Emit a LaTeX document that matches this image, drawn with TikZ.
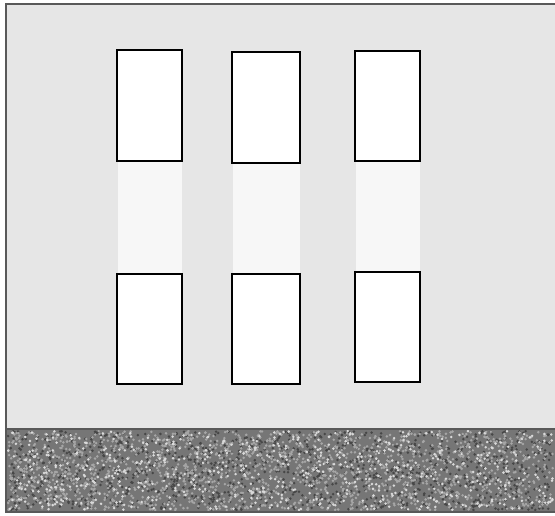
\documentclass[tikz,border=0pt]{standalone}
\usepackage{tikz}
\usetikzlibrary{calc}
\definecolor{wallgray}{HTML}{E6E6E6}
\definecolor{stripgray}{HTML}{F7F7F7}
\definecolor{gravelgray}{HTML}{767676}
\begin{document}
\begin{tikzpicture}[x=0.02cm,y=-0.02cm,
  pane/.style={draw=black,line width=1.5pt,fill=white},
  strip/.style={fill=stripgray},
  frameline/.style={draw=black!65,line width=0.9pt}]
\useasboundingbox (0,0) rectangle (555,515);
\fill[white] (0,0) rectangle (555,515);
\fill[wallgray] (6,4) rectangle (555,429);
% gravel ground
\fill[gravelgray] (6,429) rectangle (555,512);
\pgfmathsetseed{11}
\foreach \i in {1,...,1200} {
  \pgfmathsetmacro\px{8+545*rnd}
  \pgfmathsetmacro\py{431+79*rnd}
  \fill[black!72] (\px,\py) circle (0.8pt);
}
\foreach \i in {1,...,1800} {
  \pgfmathsetmacro\px{8+545*rnd}
  \pgfmathsetmacro\py{431+79*rnd}
  \fill[black!35] (\px,\py) circle (0.8pt);
}
\foreach \i in {1,...,700} {
  \pgfmathsetmacro\px{8+545*rnd}
  \pgfmathsetmacro\py{431+79*rnd}
  \fill[white!85!black] (\px,\py) circle (0.8pt);
}
\draw[frameline] (555,4) -- (6,4) -- (6,512) -- (555,512);
\draw[frameline] (6,429) -- (555,429);
% three columns of panes
\foreach \l/\r/\ta/\tb/\ba/\bb in {117/182/50/161/274/384,232/300/52/163/274/384,355/420/51/161/272/382} {
  \fill[strip] (\l+1,\tb) rectangle (\r,\ba);
  \draw[pane] (\l,\ta) rectangle (\r,\tb);
  \draw[pane] (\l,\ba) rectangle (\r,\bb);
}
\end{tikzpicture}
\end{document}
